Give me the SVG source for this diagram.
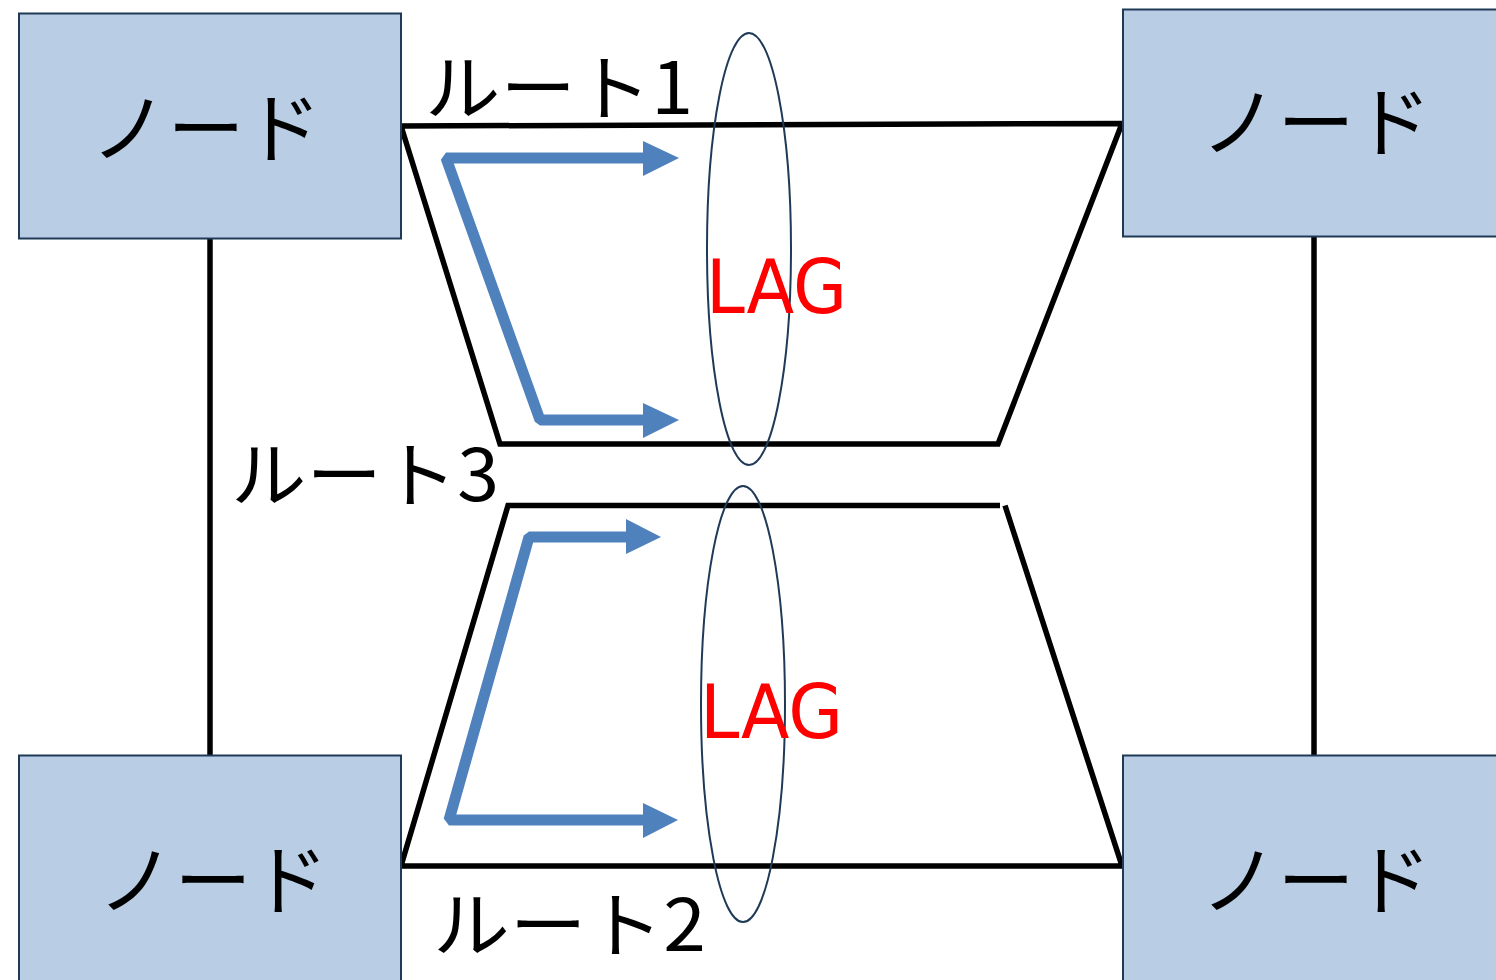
<svg xmlns="http://www.w3.org/2000/svg" width="1496" height="980" viewBox="0 0 1496 980">
<style>
.node{fill:#B9CDE4;stroke:#1F3A57;stroke-width:2}
.nt{font-family:"Noto Sans CJK JP","Noto Sans",sans-serif;font-size:77px;fill:#000;text-anchor:middle}
.rt{font-family:"Noto Sans CJK JP","Noto Sans",sans-serif;font-size:72px;fill:#000}
.link{stroke:#000;stroke-width:5.5;fill:none}
.flow{stroke:#4F81BD;stroke-width:11;fill:none;stroke-linejoin:bevel}
.head{fill:#4F81BD}
.lag{fill:none;stroke:#1F3A57;stroke-width:2}
.lagt{font-family:"DejaVu Sans","Liberation Sans",sans-serif;font-size:75px;fill:#FF0000}
</style>
<rect width="1496" height="980" fill="#fff"/>
<g id="connectors">
<line class="link" x1="210" y1="239" x2="210" y2="756"/>
<line class="link" x1="1314" y1="237" x2="1314" y2="756"/>
<path class="link" d="M401 126 L1122 123.5 L998 444 L500 444 L401 126"/>
<path class="link" d="M1000 505.5 L508 505.5 L401 866 L1122 866 L1005 505.5"/>
</g>
<g id="node-tl"><rect class="node" x="19" y="13.5" width="382" height="225"/><text class="nt" x="206" y="157">ノード</text></g>
<g id="node-tr"><rect class="node" x="1123" y="9.5" width="380" height="227"/><text class="nt" x="1316" y="151">ノード</text></g>
<g id="node-bl"><rect class="node" x="19" y="755.5" width="382" height="235"/><text class="nt" x="213" y="909">ノード</text></g>
<g id="node-br"><rect class="node" x="1123" y="755.5" width="380" height="235"/><text class="nt" x="1316" y="909">ノード</text></g>
<g id="flows">
<polyline class="flow" points="645,158 446,158 540,420 645,420"/>
<polygon class="head" points="643,141 679,158 643,176"/>
<polygon class="head" points="643,403 679,420 643,438"/>
<polyline class="flow" points="627,537 529,537 449,820 645,820"/>
<polygon class="head" points="626,519 661,537 626,554"/>
<polygon class="head" points="643,803 678,820 643,838"/>
</g>
<g id="lag-upper"><ellipse class="lag" cx="749" cy="249" rx="42" ry="216"/><text class="lagt" x="706" y="313" textLength="141" lengthAdjust="spacingAndGlyphs">LAG</text></g>
<g id="lag-lower"><ellipse class="lag" cx="743" cy="704" rx="42" ry="218"/><text class="lagt" x="700" y="738" textLength="143" lengthAdjust="spacingAndGlyphs">LAG</text></g>
<g id="labels">
<text class="rt" x="425" y="114" textLength="268" lengthAdjust="spacingAndGlyphs">ルート1</text>
<text class="rt" x="231" y="501" textLength="268" lengthAdjust="spacingAndGlyphs">ルート3</text>
<text class="rt" x="433" y="951" textLength="273" lengthAdjust="spacingAndGlyphs">ルート2</text>
</g>
</svg>
